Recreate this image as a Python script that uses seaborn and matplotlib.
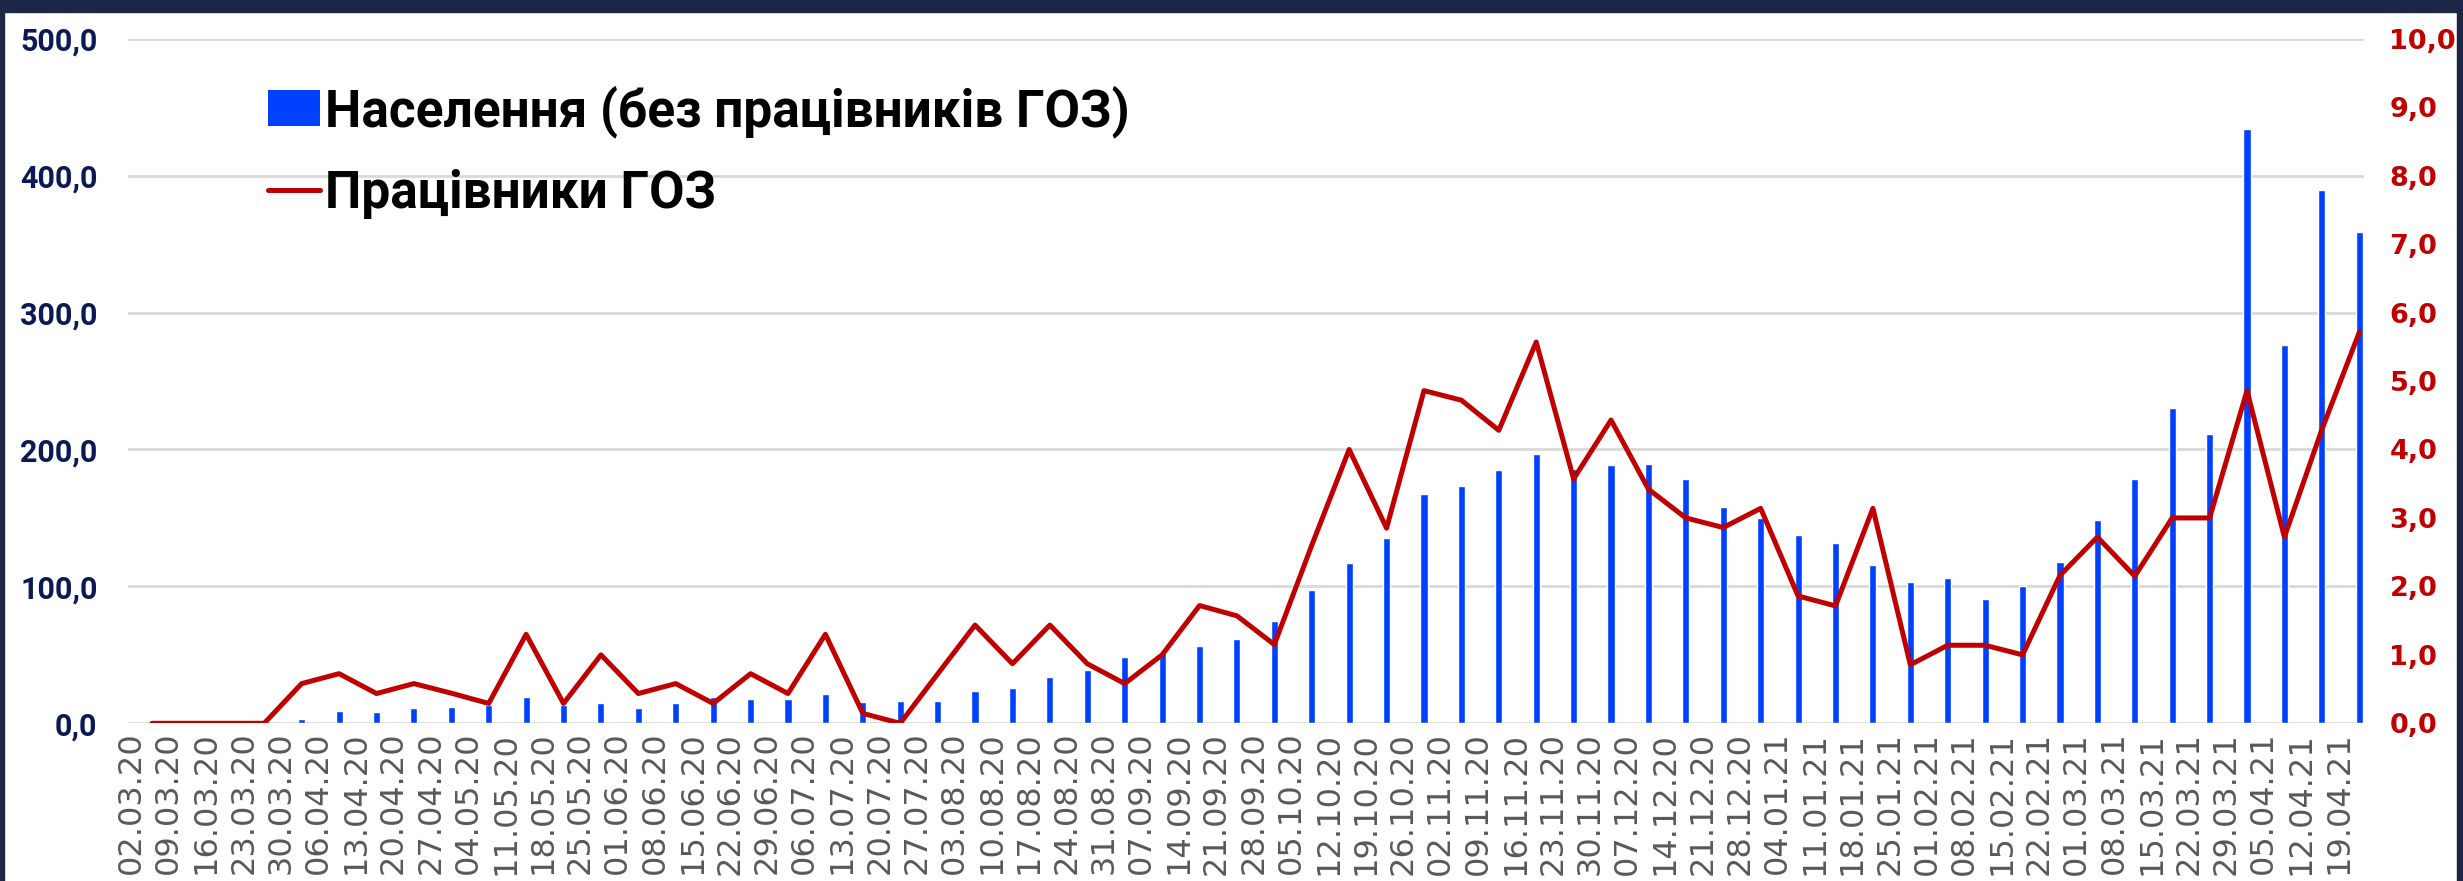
import matplotlib
matplotlib.use("Agg")
import numpy as np
import pandas as pd
import matplotlib.pyplot as plt
from matplotlib.patches import Patch, Rectangle
from matplotlib.lines import Line2D
import seaborn as sns


# Data
weeks = [
    "02.03.20", "09.03.20", "16.03.20", "23.03.20", "30.03.20", "06.04.20",
    "13.04.20", "20.04.20", "27.04.20", "04.05.20", "11.05.20", "18.05.20",
    "25.05.20", "01.06.20", "08.06.20", "15.06.20", "22.06.20", "29.06.20",
    "06.07.20", "13.07.20", "20.07.20", "27.07.20", "03.08.20", "10.08.20",
    "17.08.20", "24.08.20", "31.08.20", "07.09.20", "14.09.20", "21.09.20",
    "28.09.20", "05.10.20", "12.10.20", "19.10.20", "26.10.20", "02.11.20",
    "09.11.20", "16.11.20", "23.11.20", "30.11.20", "07.12.20", "14.12.20",
    "21.12.20", "28.12.20", "04.01.21", "11.01.21", "18.01.21", "25.01.21",
    "01.02.21", "08.02.21", "15.02.21", "22.02.21", "01.03.21", "08.03.21",
    "15.03.21", "22.03.21", "29.03.21", "05.04.21", "12.04.21", "19.04.21",
]

population = [
    0, 0, 0, 0, 3.4, 8.8, 8.5, 11.2, 11.7, 13.4, 19.0, 13.6,
    14.8, 11.2, 14.8, 19.0, 17.5, 17.5, 21.4, 15.3, 16.1, 16.5, 23.4, 26.0,
    34.1, 39.2, 48.7, 51.3, 56.2, 61.7, 74.8, 97.4, 117.1, 135.5, 167.6, 173.2,
    185.3, 196.7, 185.8, 189.0, 189.7, 178.8, 158.1, 149.9, 137.2, 131.9, 115.4, 103.0,
    106.1, 90.6, 100.6, 117.8, 148.2, 178.3, 230.6, 211.0, 434.2, 276.5, 389.6, 359.1,
]

health_workers = [
    0, 0, 0, 0, 0.58, 0.725, 0.435, 0.58, 0.44, 0.29, 1.3, 0.29,
    1.0, 0.435, 0.58, 0.29, 0.725, 0.435, 1.3, 0.145, 0.0, 0.72, 1.435, 0.87,
    1.435, 0.87, 0.58, 1.0, 1.72, 1.57, 1.15, 2.6, 4.0, 2.85, 4.86, 4.72,
    4.28, 5.57, 3.57, 4.43, 3.42, 3.0, 2.86, 3.14, 1.86, 1.715, 3.14, 0.855,
    1.14, 1.14, 1.0, 2.16, 2.72, 2.15, 3.0, 3.0, 4.86, 2.72, 4.29, 5.71,
]

left_ticks = [0, 100, 200, 300, 400, 500]
right_ticks = [0, 1, 2, 3, 4, 5, 6, 7, 8, 9, 10]

label_pop = "Населення (без працівників ГОЗ)"
label_hcw = "Працівники ГОЗ"

BLUE = "#0041ff"
RED = "#c00000"
NAVY = "#0b1a55"

df = pd.DataFrame({"week": weeks, "pop": population, "hcw": health_workers})
df["pos"] = np.arange(len(df))

sns.set_style("white")
plt.rcParams["font.family"] = ["DejaVu Sans"]

fig = plt.figure(figsize=(24.63, 8.81), dpi=100)
ax = fig.add_axes([0.052, 0.179, 0.908, 0.777])

sns.barplot(data=df, x="pos", y="pop", color=BLUE, width=0.19,
            saturation=1, ax=ax)

ax2 = ax.twinx()
sns.lineplot(data=df, x="pos", y="hcw", color=RED, linewidth=3.6, ax=ax2)

ax.set_xlim(-0.64, len(df) - 0.86)
ax.set_ylim(0, 500)
ax2.set_ylim(0, 10)

# grid
for v in left_ticks:
    ax.axhline(v, color="#d9d9d9", linewidth=2, zorder=0)

for a in (ax, ax2):
    for s in a.spines.values():
        s.set_visible(False)
    a.set_xlabel("")
    a.set_ylabel("")

ax.set_yticks(left_ticks)
ax.set_yticklabels([f"{v:.1f}".replace(".", ",") for v in left_ticks],
                   fontsize=22, fontweight="bold", color=NAVY,
                   family=["Roboto", "DejaVu Sans"])
ax2.set_yticks(right_ticks)
ax2.set_yticklabels([f"{v:.1f}".replace(".", ",") for v in right_ticks],
                    fontsize=19.5, fontweight="bold", color=RED)
ax.tick_params(axis="y", length=0, pad=22)
ax2.tick_params(axis="y", length=0, pad=18)

ax.set_xticks(df["pos"] - 0.55)
ax.set_xticklabels(weeks, rotation=90, fontsize=23, color="#595959")
ax.tick_params(axis="x", length=0, pad=6)

# legend
handles = [
    Patch(facecolor=BLUE, edgecolor="none"),
    Line2D([0], [0], color=RED, linewidth=3.6),
]
leg = ax.legend(handles, [label_pop, label_hcw], loc="upper left",
                bbox_to_anchor=(0.0535, 0.962), frameon=False,
                prop={"family": ["Roboto", "DejaVu Sans"],
                      "weight": "bold", "size": 37},
                labelcolor="black",
                handlelength=1.0, handleheight=0.7, handletextpad=0.1,
                labelspacing=0.6, borderaxespad=0)

# slide frame
fig.patches.append(Rectangle((0, 0.986), 1, 0.014, transform=fig.transFigure,
                             color="#1e2645", zorder=10))
fig.patches.append(Rectangle((0, 0), 0.0016, 1, transform=fig.transFigure,
                             color="#1e2645", zorder=10))
fig.patches.append(Rectangle((0.9975, 0), 0.0025, 1, transform=fig.transFigure,
                             color="#1e2645", zorder=10))

fig.savefig("out.png", dpi=100)
